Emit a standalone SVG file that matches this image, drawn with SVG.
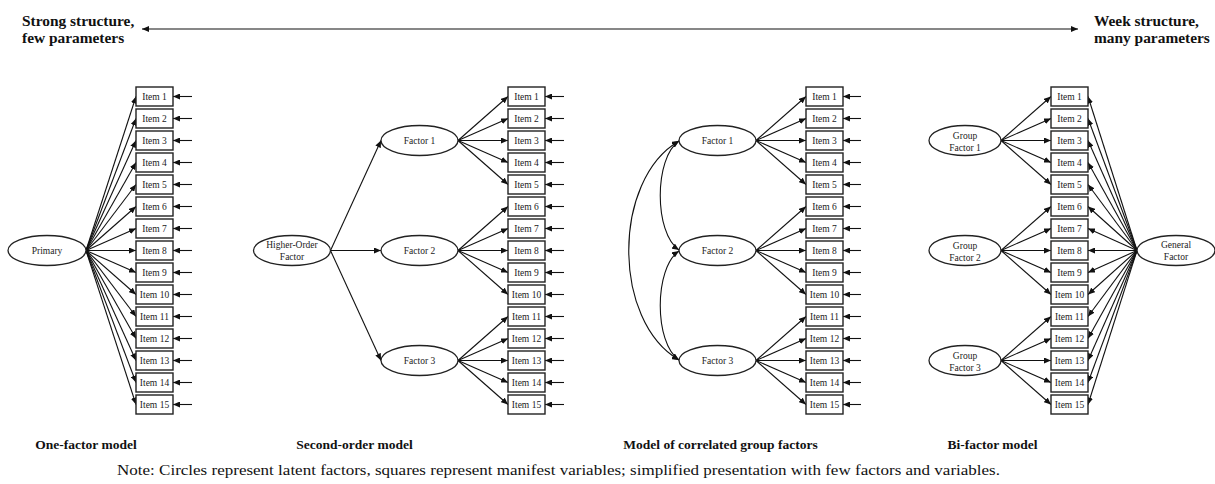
<svg xmlns="http://www.w3.org/2000/svg" width="1215" height="484" viewBox="0 0 1215 484">
<style>
  .box { fill: #fff; stroke: #222; stroke-width: 1.4; }
  .lat { fill: #fff; stroke: #222; stroke-width: 1.3; }
  .it { font-family: "Liberation Serif", "Times New Roman", serif; font-size: 9.5px; fill: #222; text-anchor: middle; }
  .head { font-family: "Liberation Serif", "Times New Roman", serif; font-size: 15.4px; font-weight: bold; fill: #111; }
  .cap { font-family: "Liberation Serif", "Times New Roman", serif; font-size: 13.5px; font-weight: bold; fill: #111; text-anchor: middle; }
  .note { font-family: "Liberation Serif", "Times New Roman", serif; font-size: 14px; fill: #111; }
  .c { stroke: #111; stroke-width: 1.1; fill: none; marker-end: url(#ah); }
  .cc { stroke: #111; stroke-width: 1.1; fill: none; marker-start: url(#ah); marker-end: url(#ah); }
</style>
<defs>
  <marker id="ah" markerUnits="userSpaceOnUse" markerWidth="8" markerHeight="6" refX="7" refY="3" orient="auto-start-reverse">
    <path d="M0,0 L7,3 L0,6 z" fill="#111"/>
  </marker>
</defs>
<rect width="1215" height="484" fill="#fff"/>

<!-- heading -->
<g id="scale">
  <text class="head" x="22" y="26">Strong structure,</text>
  <text class="head" x="22" y="43">few parameters</text>
  <text class="head" x="1094" y="26">Week structure,</text>
  <text class="head" x="1094" y="43">many parameters</text>
</g>

<!-- connectors -->
<g id="connectors">
  <path class="cc" d="M142,29 H1078"/>

  <!-- one-factor model: loadings -->
  <path class="c" d="M86,250.5 L136,96.5"/>
  <path class="c" d="M86,250.5 L136,118.5"/>
  <path class="c" d="M86,250.5 L136,140.5"/>
  <path class="c" d="M86,250.5 L136,162.5"/>
  <path class="c" d="M86,250.5 L136,184.5"/>
  <path class="c" d="M86,250.5 L136,206.5"/>
  <path class="c" d="M86,250.5 L136,228.5"/>
  <path class="c" d="M86,250.5 L136,250.5"/>
  <path class="c" d="M86,250.5 L136,272.5"/>
  <path class="c" d="M86,250.5 L136,294.5"/>
  <path class="c" d="M86,250.5 L136,316.5"/>
  <path class="c" d="M86,250.5 L136,338.5"/>
  <path class="c" d="M86,250.5 L136,360.5"/>
  <path class="c" d="M86,250.5 L136,382.5"/>
  <path class="c" d="M86,250.5 L136,404.5"/>
  <!-- one-factor model: residuals -->
  <path class="c" d="M192,96.5 H173"/>
  <path class="c" d="M192,118.5 H173"/>
  <path class="c" d="M192,140.5 H173"/>
  <path class="c" d="M192,162.5 H173"/>
  <path class="c" d="M192,184.5 H173"/>
  <path class="c" d="M192,206.5 H173"/>
  <path class="c" d="M192,228.5 H173"/>
  <path class="c" d="M192,250.5 H173"/>
  <path class="c" d="M192,272.5 H173"/>
  <path class="c" d="M192,294.5 H173"/>
  <path class="c" d="M192,316.5 H173"/>
  <path class="c" d="M192,338.5 H173"/>
  <path class="c" d="M192,360.5 H173"/>
  <path class="c" d="M192,382.5 H173"/>
  <path class="c" d="M192,404.5 H173"/>

  <!-- second-order model -->
  <path class="c" d="M330.5,250.5 L381,140.5"/>
  <path class="c" d="M330.5,250.5 L381,250.5"/>
  <path class="c" d="M330.5,250.5 L381,360.5"/>
  <path class="c" d="M458,140.5 L508,96.5"/>
  <path class="c" d="M458,140.5 L508,118.5"/>
  <path class="c" d="M458,140.5 L508,140.5"/>
  <path class="c" d="M458,140.5 L508,162.5"/>
  <path class="c" d="M458,140.5 L508,184.5"/>
  <path class="c" d="M458,250.5 L508,206.5"/>
  <path class="c" d="M458,250.5 L508,228.5"/>
  <path class="c" d="M458,250.5 L508,250.5"/>
  <path class="c" d="M458,250.5 L508,272.5"/>
  <path class="c" d="M458,250.5 L508,294.5"/>
  <path class="c" d="M458,360.5 L508,316.5"/>
  <path class="c" d="M458,360.5 L508,338.5"/>
  <path class="c" d="M458,360.5 L508,360.5"/>
  <path class="c" d="M458,360.5 L508,382.5"/>
  <path class="c" d="M458,360.5 L508,404.5"/>
  <path class="c" d="M564,96.5 H545"/>
  <path class="c" d="M564,118.5 H545"/>
  <path class="c" d="M564,140.5 H545"/>
  <path class="c" d="M564,162.5 H545"/>
  <path class="c" d="M564,184.5 H545"/>
  <path class="c" d="M564,206.5 H545"/>
  <path class="c" d="M564,228.5 H545"/>
  <path class="c" d="M564,250.5 H545"/>
  <path class="c" d="M564,272.5 H545"/>
  <path class="c" d="M564,294.5 H545"/>
  <path class="c" d="M564,316.5 H545"/>
  <path class="c" d="M564,338.5 H545"/>
  <path class="c" d="M564,360.5 H545"/>
  <path class="c" d="M564,382.5 H545"/>
  <path class="c" d="M564,404.5 H545"/>

  <!-- correlated group factors -->
  <path class="cc" d="M679,141 C654,158 654,233 679,250"/>
  <path class="cc" d="M679,251 C654,268 654,343 679,360"/>
  <path class="cc" d="M679,141 C612,180 612,321 679,360"/>
  <path class="c" d="M756,140.5 L806,96.5"/>
  <path class="c" d="M756,140.5 L806,118.5"/>
  <path class="c" d="M756,140.5 L806,140.5"/>
  <path class="c" d="M756,140.5 L806,162.5"/>
  <path class="c" d="M756,140.5 L806,184.5"/>
  <path class="c" d="M756,250.5 L806,206.5"/>
  <path class="c" d="M756,250.5 L806,228.5"/>
  <path class="c" d="M756,250.5 L806,250.5"/>
  <path class="c" d="M756,250.5 L806,272.5"/>
  <path class="c" d="M756,250.5 L806,294.5"/>
  <path class="c" d="M756,360.5 L806,316.5"/>
  <path class="c" d="M756,360.5 L806,338.5"/>
  <path class="c" d="M756,360.5 L806,360.5"/>
  <path class="c" d="M756,360.5 L806,382.5"/>
  <path class="c" d="M756,360.5 L806,404.5"/>
  <path class="c" d="M861,96.5 H843"/>
  <path class="c" d="M861,118.5 H843"/>
  <path class="c" d="M861,140.5 H843"/>
  <path class="c" d="M861,162.5 H843"/>
  <path class="c" d="M861,184.5 H843"/>
  <path class="c" d="M861,206.5 H843"/>
  <path class="c" d="M861,228.5 H843"/>
  <path class="c" d="M861,250.5 H843"/>
  <path class="c" d="M861,272.5 H843"/>
  <path class="c" d="M861,294.5 H843"/>
  <path class="c" d="M861,316.5 H843"/>
  <path class="c" d="M861,338.5 H843"/>
  <path class="c" d="M861,360.5 H843"/>
  <path class="c" d="M861,382.5 H843"/>
  <path class="c" d="M861,404.5 H843"/>

  <!-- bi-factor model: group factors -->
  <path class="c" d="M1001,140.5 L1051,96.5"/>
  <path class="c" d="M1001,140.5 L1051,118.5"/>
  <path class="c" d="M1001,140.5 L1051,140.5"/>
  <path class="c" d="M1001,140.5 L1051,162.5"/>
  <path class="c" d="M1001,140.5 L1051,184.5"/>
  <path class="c" d="M1001,250.5 L1051,206.5"/>
  <path class="c" d="M1001,250.5 L1051,228.5"/>
  <path class="c" d="M1001,250.5 L1051,250.5"/>
  <path class="c" d="M1001,250.5 L1051,272.5"/>
  <path class="c" d="M1001,250.5 L1051,294.5"/>
  <path class="c" d="M1001,360.5 L1051,316.5"/>
  <path class="c" d="M1001,360.5 L1051,338.5"/>
  <path class="c" d="M1001,360.5 L1051,360.5"/>
  <path class="c" d="M1001,360.5 L1051,382.5"/>
  <path class="c" d="M1001,360.5 L1051,404.5"/>
  <!-- bi-factor model: general factor -->
  <path class="c" d="M1137,250.5 L1088,96.5"/>
  <path class="c" d="M1137,250.5 L1088,118.5"/>
  <path class="c" d="M1137,250.5 L1088,140.5"/>
  <path class="c" d="M1137,250.5 L1088,162.5"/>
  <path class="c" d="M1137,250.5 L1088,184.5"/>
  <path class="c" d="M1137,250.5 L1088,206.5"/>
  <path class="c" d="M1137,250.5 L1088,228.5"/>
  <path class="c" d="M1137,250.5 L1088,250.5"/>
  <path class="c" d="M1137,250.5 L1088,272.5"/>
  <path class="c" d="M1137,250.5 L1088,294.5"/>
  <path class="c" d="M1137,250.5 L1088,316.5"/>
  <path class="c" d="M1137,250.5 L1088,338.5"/>
  <path class="c" d="M1137,250.5 L1088,360.5"/>
  <path class="c" d="M1137,250.5 L1088,382.5"/>
  <path class="c" d="M1137,250.5 L1088,404.5"/>
</g>

<!-- one-factor model -->
<g id="m1-primary"><ellipse class="lat" cx="47" cy="250.5" rx="39" ry="15"/><text class="it" x="47" y="254">Primary</text></g>
<g id="m1-items" transform="translate(136,0)">
  <g id="m1-item1"><rect class="box" x="0" y="87" width="37" height="19"/><text class="it" x="18.5" y="100">Item 1</text></g>
  <g id="m1-item2"><rect class="box" x="0" y="109" width="37" height="19"/><text class="it" x="18.5" y="122">Item 2</text></g>
  <g id="m1-item3"><rect class="box" x="0" y="131" width="37" height="19"/><text class="it" x="18.5" y="144">Item 3</text></g>
  <g id="m1-item4"><rect class="box" x="0" y="153" width="37" height="19"/><text class="it" x="18.5" y="166">Item 4</text></g>
  <g id="m1-item5"><rect class="box" x="0" y="175" width="37" height="19"/><text class="it" x="18.5" y="188">Item 5</text></g>
  <g id="m1-item6"><rect class="box" x="0" y="197" width="37" height="19"/><text class="it" x="18.5" y="210">Item 6</text></g>
  <g id="m1-item7"><rect class="box" x="0" y="219" width="37" height="19"/><text class="it" x="18.5" y="232">Item 7</text></g>
  <g id="m1-item8"><rect class="box" x="0" y="241" width="37" height="19"/><text class="it" x="18.5" y="254">Item 8</text></g>
  <g id="m1-item9"><rect class="box" x="0" y="263" width="37" height="19"/><text class="it" x="18.5" y="276">Item 9</text></g>
  <g id="m1-item10"><rect class="box" x="0" y="285" width="37" height="19"/><text class="it" x="18.5" y="298">Item 10</text></g>
  <g id="m1-item11"><rect class="box" x="0" y="307" width="37" height="19"/><text class="it" x="18.5" y="320">Item 11</text></g>
  <g id="m1-item12"><rect class="box" x="0" y="329" width="37" height="19"/><text class="it" x="18.5" y="342">Item 12</text></g>
  <g id="m1-item13"><rect class="box" x="0" y="351" width="37" height="19"/><text class="it" x="18.5" y="364">Item 13</text></g>
  <g id="m1-item14"><rect class="box" x="0" y="373" width="37" height="19"/><text class="it" x="18.5" y="386">Item 14</text></g>
  <g id="m1-item15"><rect class="box" x="0" y="395" width="37" height="19"/><text class="it" x="18.5" y="408">Item 15</text></g>
</g>

<!-- second-order model -->
<g id="m2-higher"><ellipse class="lat" cx="292" cy="250.5" rx="38.5" ry="15"/><text class="it" x="292" y="248">Higher-Order</text><text class="it" x="292" y="260">Factor</text></g>
<g id="m2-factor1"><ellipse class="lat" cx="419.5" cy="140.5" rx="38.5" ry="15"/><text class="it" x="419.5" y="144">Factor 1</text></g>
<g id="m2-factor2"><ellipse class="lat" cx="419.5" cy="250.5" rx="38.5" ry="15"/><text class="it" x="419.5" y="254">Factor 2</text></g>
<g id="m2-factor3"><ellipse class="lat" cx="419.5" cy="360.5" rx="38.5" ry="15"/><text class="it" x="419.5" y="364">Factor 3</text></g>
<g id="m2-items" transform="translate(508,0)">
  <g id="m2-item1"><rect class="box" x="0" y="87" width="37" height="19"/><text class="it" x="18.5" y="100">Item 1</text></g>
  <g id="m2-item2"><rect class="box" x="0" y="109" width="37" height="19"/><text class="it" x="18.5" y="122">Item 2</text></g>
  <g id="m2-item3"><rect class="box" x="0" y="131" width="37" height="19"/><text class="it" x="18.5" y="144">Item 3</text></g>
  <g id="m2-item4"><rect class="box" x="0" y="153" width="37" height="19"/><text class="it" x="18.5" y="166">Item 4</text></g>
  <g id="m2-item5"><rect class="box" x="0" y="175" width="37" height="19"/><text class="it" x="18.5" y="188">Item 5</text></g>
  <g id="m2-item6"><rect class="box" x="0" y="197" width="37" height="19"/><text class="it" x="18.5" y="210">Item 6</text></g>
  <g id="m2-item7"><rect class="box" x="0" y="219" width="37" height="19"/><text class="it" x="18.5" y="232">Item 7</text></g>
  <g id="m2-item8"><rect class="box" x="0" y="241" width="37" height="19"/><text class="it" x="18.5" y="254">Item 8</text></g>
  <g id="m2-item9"><rect class="box" x="0" y="263" width="37" height="19"/><text class="it" x="18.5" y="276">Item 9</text></g>
  <g id="m2-item10"><rect class="box" x="0" y="285" width="37" height="19"/><text class="it" x="18.5" y="298">Item 10</text></g>
  <g id="m2-item11"><rect class="box" x="0" y="307" width="37" height="19"/><text class="it" x="18.5" y="320">Item 11</text></g>
  <g id="m2-item12"><rect class="box" x="0" y="329" width="37" height="19"/><text class="it" x="18.5" y="342">Item 12</text></g>
  <g id="m2-item13"><rect class="box" x="0" y="351" width="37" height="19"/><text class="it" x="18.5" y="364">Item 13</text></g>
  <g id="m2-item14"><rect class="box" x="0" y="373" width="37" height="19"/><text class="it" x="18.5" y="386">Item 14</text></g>
  <g id="m2-item15"><rect class="box" x="0" y="395" width="37" height="19"/><text class="it" x="18.5" y="408">Item 15</text></g>
</g>

<!-- correlated group factors -->
<g id="m3-factor1"><ellipse class="lat" cx="717.5" cy="140.5" rx="38.5" ry="15"/><text class="it" x="717.5" y="144">Factor 1</text></g>
<g id="m3-factor2"><ellipse class="lat" cx="717.5" cy="250.5" rx="38.5" ry="15"/><text class="it" x="717.5" y="254">Factor 2</text></g>
<g id="m3-factor3"><ellipse class="lat" cx="717.5" cy="360.5" rx="38.5" ry="15"/><text class="it" x="717.5" y="364">Factor 3</text></g>
<g id="m3-items" transform="translate(806,0)">
  <g id="m3-item1"><rect class="box" x="0" y="87" width="37" height="19"/><text class="it" x="18.5" y="100">Item 1</text></g>
  <g id="m3-item2"><rect class="box" x="0" y="109" width="37" height="19"/><text class="it" x="18.5" y="122">Item 2</text></g>
  <g id="m3-item3"><rect class="box" x="0" y="131" width="37" height="19"/><text class="it" x="18.5" y="144">Item 3</text></g>
  <g id="m3-item4"><rect class="box" x="0" y="153" width="37" height="19"/><text class="it" x="18.5" y="166">Item 4</text></g>
  <g id="m3-item5"><rect class="box" x="0" y="175" width="37" height="19"/><text class="it" x="18.5" y="188">Item 5</text></g>
  <g id="m3-item6"><rect class="box" x="0" y="197" width="37" height="19"/><text class="it" x="18.5" y="210">Item 6</text></g>
  <g id="m3-item7"><rect class="box" x="0" y="219" width="37" height="19"/><text class="it" x="18.5" y="232">Item 7</text></g>
  <g id="m3-item8"><rect class="box" x="0" y="241" width="37" height="19"/><text class="it" x="18.5" y="254">Item 8</text></g>
  <g id="m3-item9"><rect class="box" x="0" y="263" width="37" height="19"/><text class="it" x="18.5" y="276">Item 9</text></g>
  <g id="m3-item10"><rect class="box" x="0" y="285" width="37" height="19"/><text class="it" x="18.5" y="298">Item 10</text></g>
  <g id="m3-item11"><rect class="box" x="0" y="307" width="37" height="19"/><text class="it" x="18.5" y="320">Item 11</text></g>
  <g id="m3-item12"><rect class="box" x="0" y="329" width="37" height="19"/><text class="it" x="18.5" y="342">Item 12</text></g>
  <g id="m3-item13"><rect class="box" x="0" y="351" width="37" height="19"/><text class="it" x="18.5" y="364">Item 13</text></g>
  <g id="m3-item14"><rect class="box" x="0" y="373" width="37" height="19"/><text class="it" x="18.5" y="386">Item 14</text></g>
  <g id="m3-item15"><rect class="box" x="0" y="395" width="37" height="19"/><text class="it" x="18.5" y="408">Item 15</text></g>
</g>

<!-- bi-factor model -->
<g id="m4-group1"><ellipse class="lat" cx="965" cy="140.5" rx="36" ry="15"/><text class="it" x="965" y="139">Group</text><text class="it" x="965" y="151">Factor 1</text></g>
<g id="m4-group2"><ellipse class="lat" cx="965" cy="250.5" rx="36" ry="15"/><text class="it" x="965" y="249">Group</text><text class="it" x="965" y="261">Factor 2</text></g>
<g id="m4-group3"><ellipse class="lat" cx="965" cy="360.5" rx="36" ry="15"/><text class="it" x="965" y="359">Group</text><text class="it" x="965" y="371">Factor 3</text></g>
<g id="m4-general"><ellipse class="lat" cx="1176" cy="250.5" rx="39" ry="15"/><text class="it" x="1176" y="248">General</text><text class="it" x="1176" y="260">Factor</text></g>
<g id="m4-items" transform="translate(1051,0)">
  <g id="m4-item1"><rect class="box" x="0" y="87" width="37" height="19"/><text class="it" x="18.5" y="100">Item 1</text></g>
  <g id="m4-item2"><rect class="box" x="0" y="109" width="37" height="19"/><text class="it" x="18.5" y="122">Item 2</text></g>
  <g id="m4-item3"><rect class="box" x="0" y="131" width="37" height="19"/><text class="it" x="18.5" y="144">Item 3</text></g>
  <g id="m4-item4"><rect class="box" x="0" y="153" width="37" height="19"/><text class="it" x="18.5" y="166">Item 4</text></g>
  <g id="m4-item5"><rect class="box" x="0" y="175" width="37" height="19"/><text class="it" x="18.5" y="188">Item 5</text></g>
  <g id="m4-item6"><rect class="box" x="0" y="197" width="37" height="19"/><text class="it" x="18.5" y="210">Item 6</text></g>
  <g id="m4-item7"><rect class="box" x="0" y="219" width="37" height="19"/><text class="it" x="18.5" y="232">Item 7</text></g>
  <g id="m4-item8"><rect class="box" x="0" y="241" width="37" height="19"/><text class="it" x="18.5" y="254">Item 8</text></g>
  <g id="m4-item9"><rect class="box" x="0" y="263" width="37" height="19"/><text class="it" x="18.5" y="276">Item 9</text></g>
  <g id="m4-item10"><rect class="box" x="0" y="285" width="37" height="19"/><text class="it" x="18.5" y="298">Item 10</text></g>
  <g id="m4-item11"><rect class="box" x="0" y="307" width="37" height="19"/><text class="it" x="18.5" y="320">Item 11</text></g>
  <g id="m4-item12"><rect class="box" x="0" y="329" width="37" height="19"/><text class="it" x="18.5" y="342">Item 12</text></g>
  <g id="m4-item13"><rect class="box" x="0" y="351" width="37" height="19"/><text class="it" x="18.5" y="364">Item 13</text></g>
  <g id="m4-item14"><rect class="box" x="0" y="373" width="37" height="19"/><text class="it" x="18.5" y="386">Item 14</text></g>
  <g id="m4-item15"><rect class="box" x="0" y="395" width="37" height="19"/><text class="it" x="18.5" y="408">Item 15</text></g>
</g>

<!-- captions -->
<g id="captions">
  <text class="cap" x="86" y="449">One-factor model</text>
  <text class="cap" x="354.5" y="449">Second-order model</text>
  <text class="cap" x="720.5" y="449">Model of correlated group factors</text>
  <text class="cap" x="992.5" y="449">Bi-factor model</text>
  <text class="note" x="117" y="475" textLength="883" lengthAdjust="spacingAndGlyphs">Note: Circles represent latent factors, squares represent manifest variables; simplified presentation with few factors and variables.</text>
</g>
</svg>
